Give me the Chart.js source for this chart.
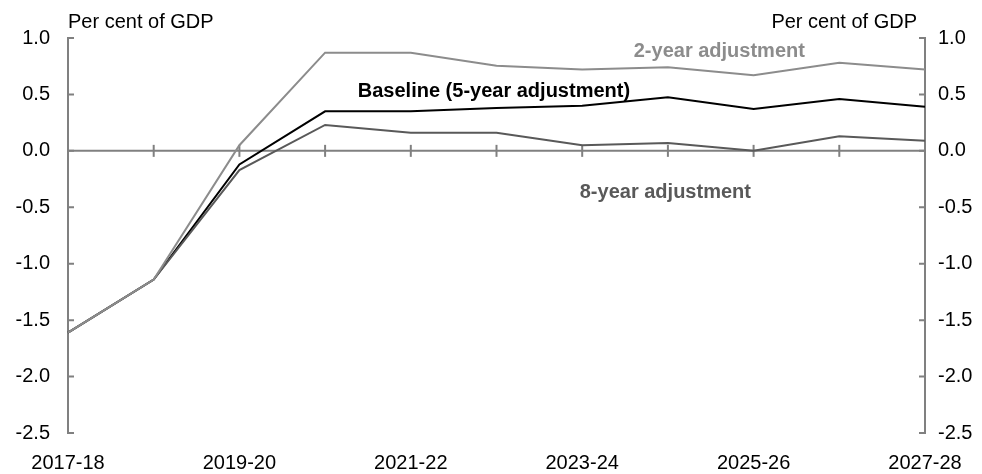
<!DOCTYPE html>
<html>
<head>
<meta charset="utf-8">
<script src="https://cdn.jsdelivr.net/npm/chart.js@4"></script>
<style>
  html, body { margin: 0; padding: 0; background: #fff; }
  #wrap { width: 982px; height: 474px; }
</style>
</head>
<body>
<div id="wrap"><canvas id="fiscalChart" width="982" height="474"></canvas></div>
<script>
// categories (financial years)
let years = ['2017-18', '2018-19', '2019-20', '2020-21', '2021-22', '2022-23',
             '2023-24', '2024-25', '2025-26', '2026-27', '2027-28'];

// per cent of GDP
let baseline   = [-1.61, -1.14, -0.12, 0.35, 0.35, 0.38, 0.40, 0.475, 0.37, 0.46, 0.39];
let twoYear    = [-1.61, -1.14,  0.05, 0.87, 0.87, 0.755, 0.72, 0.74, 0.67, 0.78, 0.72];
let eightYear  = [-1.61, -1.14, -0.17, 0.23, 0.16, 0.16, 0.05, 0.07, 0.00, 0.13, 0.09];

let yMin = -2.5;
let yMax = 1.0;
let yStep = 0.5;
let unitText = 'Per cent of GDP';

let axisGrey = '#808080';
let fontFam = '"Liberation Sans", Arial, sans-serif';

// 축, 눈금, 시리즈 이름 그리기
let axisDecor = {
	id: 'axisDecor',
	beforeDatasetsDraw: function(chart) {
		let ctx = chart.ctx;
		let area = chart.chartArea;
		let xs = chart.scales.x;
		let ys = chart.scales.y;
		let y0 = ys.getPixelForValue(0);
		ctx.save();
		ctx.strokeStyle = axisGrey;
		ctx.lineWidth = 2;
		// zero line
		ctx.beginPath();
		ctx.moveTo(area.left, y0);
		ctx.lineTo(area.right, y0);
		ctx.stroke();
		// category ticks across the zero line
		for (let i = 1; i < years.length - 1; i++) {
			let px = xs.getPixelForValue(i);
			ctx.beginPath();
			ctx.moveTo(px, y0 - 6);
			ctx.lineTo(px, y0 + 6);
			ctx.stroke();
		}
		// inward ticks on both value axes
		for (let v = yMin; v <= yMax + 1e-9; v += yStep) {
			let py = ys.getPixelForValue(v);
			ctx.beginPath();
			ctx.moveTo(area.left, py);
			ctx.lineTo(area.left + 6, py);
			ctx.moveTo(area.right, py);
			ctx.lineTo(area.right - 6, py);
			ctx.stroke();
		}
		ctx.restore();
	},
	afterDraw: function(chart) {
		let ctx = chart.ctx;
		let area = chart.chartArea;
		let xs = chart.scales.x;
		let ys = chart.scales.y;
		ctx.save();
		ctx.textBaseline = 'middle';
		ctx.font = '20px ' + fontFam;
		ctx.fillStyle = '#000';
		ctx.textAlign = 'left';
		ctx.fillText(unitText, area.left, 22);
		ctx.textAlign = 'right';
		ctx.fillText(unitText, area.right - 8, 22);

		ctx.font = 'bold 20px ' + fontFam;
		ctx.textAlign = 'center';
		ctx.fillStyle = '#8c8c8c';
		ctx.fillText('2-year adjustment', xs.getPixelForValue(7.6), ys.getPixelForValue(0.88));
		ctx.fillStyle = '#000';
		ctx.fillText('Baseline (5-year adjustment)', xs.getPixelForValue(4.97), ys.getPixelForValue(0.53));
		ctx.fillStyle = '#595959';
		ctx.fillText('8-year adjustment', xs.getPixelForValue(6.97), ys.getPixelForValue(-0.37));
		ctx.restore();
	}
};

let ctx = document.getElementById('fiscalChart').getContext('2d');
let fiscalChart = new Chart(ctx, {
	type: 'line',
	data: {
		labels: years,
		datasets: [{
			label: '2-year adjustment',
			data: twoYear,
			borderColor: '#8c8c8c',
			borderWidth: 2,
			pointRadius: 0,
			yAxisID: 'y'
		}, {
			label: '8-year adjustment',
			data: eightYear,
			borderColor: '#595959',
			borderWidth: 2,
			pointRadius: 0,
			yAxisID: 'y'
		}, {
			label: 'Baseline (5-year adjustment)',
			data: baseline,
			borderColor: '#000000',
			borderWidth: 2,
			pointRadius: 0,
			yAxisID: 'y'
		}]
	},
	options: {
		responsive: false,
		animation: false,
		layout: {
			padding: { top: 38, left: 0, right: 0, bottom: 0 }
		},
		plugins: {
			legend: { display: false },
			tooltip: { enabled: false }
		},
		scales: {
			x: {
				type: 'category',
				grid: { display: false, drawTicks: false },
				border: { display: false },
				ticks: {
					autoSkip: false,
					maxRotation: 0,
					padding: 18,
					color: '#000',
					font: { family: fontFam, size: 20 },
					callback: function(val, index) {
						return index % 2 === 0 ? years[index] : '';
					}
				},
				afterFit: function(scale) { scale.height = 41; }
			},
			y: {
				position: 'left',
				min: yMin,
				max: yMax,
				grid: { display: false, drawTicks: false },
				border: { display: true, color: axisGrey, width: 2 },
				ticks: {
					stepSize: yStep,
					padding: 18,
					color: '#000',
					font: { family: fontFam, size: 20 },
					callback: function(v) { return v.toFixed(1); }
				},
				afterFit: function(scale) { scale.width = 68; }
			},
			y2: {
				position: 'right',
				min: yMin,
				max: yMax,
				grid: { display: false, drawTicks: false },
				border: { display: true, color: axisGrey, width: 2 },
				ticks: {
					stepSize: yStep,
					padding: 13,
					color: '#000',
					font: { family: fontFam, size: 20 },
					callback: function(v) { return v.toFixed(1); }
				},
				afterFit: function(scale) { scale.width = 57; }
			}
		}
	},
	plugins: [axisDecor]
});
</script>
</body>
</html>
